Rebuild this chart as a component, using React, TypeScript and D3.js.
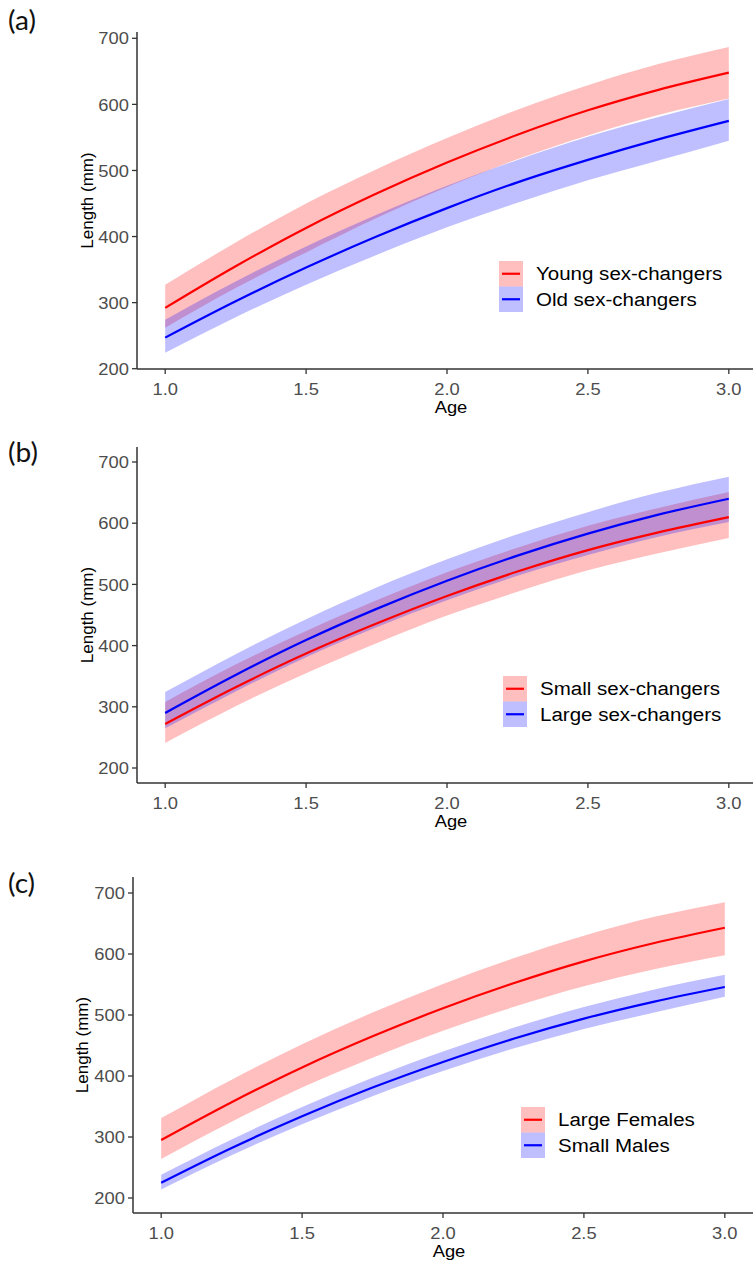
import React from 'react';
import * as d3 from 'd3';

// ---------- data ----------
const ages = [1.0, 1.25, 1.5, 1.75, 2.0, 2.25, 2.5, 2.75, 3.0];
const xTicks = [1.0, 1.5, 2.0, 2.5, 3.0];
const yTicks = [200, 300, 400, 500, 600, 700];

// (a)
const aYoungMean = [292, 355, 413, 465, 512, 554, 591, 622, 648];
const aYoungUpper = [327, 391, 450, 502, 549, 592, 629, 661, 687];
const aYoungLower = [262, 322, 376, 428, 475, 517, 553, 584, 609];
const aOldMean = [247, 302, 353, 400, 443, 482, 516, 547, 575];
const aOldUpper = [274, 332, 385, 433, 477, 516, 551, 581, 608];
const aOldLower = [224, 278, 327, 372, 414, 451, 485, 515, 545];

// (b)
const bSmallMean = [272, 332, 387, 436, 481, 521, 556, 585, 610];
const bSmallUpper = [308, 369, 424, 474, 520, 560, 596, 625, 651];
const bSmallLower = [241, 301, 355, 404, 449, 488, 523, 551, 576];
const bLargeMean = [290, 352, 409, 460, 506, 547, 583, 614, 640];
const bLargeUpper = [324, 386, 443, 495, 541, 582, 618, 650, 676];
const bLargeLower = [265, 325, 381, 430, 474, 514, 548, 578, 602];

// (c)
const cFemMean = [295, 357, 414, 465, 511, 552, 588, 618, 643];
const cFemUpper = [331, 394, 452, 504, 551, 593, 630, 661, 685];
const cFemLower = [264, 325, 381, 430, 474, 513, 547, 575, 598];
const cMaleMean = [225, 282, 334, 381, 423, 461, 494, 522, 546];
const cMaleUpper = [238, 296, 349, 397, 440, 479, 513, 542, 566];
const cMaleLower = [214, 270, 321, 367, 408, 445, 477, 504, 530];

const aLabels = ['Young sex-changers', 'Old sex-changers'];
const bLabels = ['Small sex-changers', 'Large sex-changers'];
const cLabels = ['Large Females', 'Small Males'];

const RED = '#FF0000';
const BLUE = '#0000FF';
const TICK_FONT = '"Liberation Sans", Arial, sans-serif';
const SX = 1.08; // horizontal stretch of the original figure text

type Series = { mean: number[]; upper: number[]; lower: number[]; color: string };

type PanelProps = {
  tag: string;
  tagY: number;
  axisX: number;
  xRight: number;
  y200: number;
  y700: number;
  axisTop: number;
  axisY: number;
  titleX: number;
  series: Series[];
  labels: string[];
  legendX: number;
  legendY: number;
};

function SText(props: { x: number; y: number; anchor?: string; size: number; fill: string; family: string; children: any; dy?: string }) {
  const { x, y, anchor, size, fill, family, children, dy } = props;
  return (
    <text
      transform={`translate(${x},${y}) scale(${SX},1)`}
      textAnchor={anchor || 'start'}
      fontSize={size}
      fill={fill}
      fontFamily={family}
      dy={dy}
    >
      {children}
    </text>
  );
}

function Panel(p: PanelProps) {
  const x = d3.scaleLinear().domain([0.9, 3.1]).range([p.axisX, p.xRight]);
  const y = d3.scaleLinear().domain([200, 700]).range([p.y200, p.y700]);
  const line = d3
    .line<number>()
    .x((_, i) => x(ages[i]))
    .y((d) => y(d))
    .curve(d3.curveMonotoneX);
  const band = (s: Series) =>
    d3
      .area<number>()
      .x((_, i) => x(ages[i]))
      .y0((_, i) => y(s.lower[i]))
      .y1((_, i) => y(s.upper[i]))
      .curve(d3.curveMonotoneX)(s.mean) as string;
  const axisColor = '#333333';
  const tickColor = '#4D4D4D';
  const plotMid = (p.axisTop + p.axisY) / 2;
  return (
    <g>
      <text
        transform={`translate(8,${p.tagY}) scale(1.08,1)`}
        fontFamily="Lato, 'Open Sans', sans-serif"
        fontSize={26}
        fill="#111"
      >
        {p.tag}
      </text>
      {p.series.map((s, i) => (
        <path key={'b' + i} d={band(s)} fill={s.color} fillOpacity={0.25} stroke="none" />
      ))}
      {p.series.map((s, i) => (
        <path key={'l' + i} d={line(s.mean) as string} fill="none" stroke={s.color} strokeWidth={2.2} />
      ))}
      {/* axes */}
      <line x1={p.axisX} x2={p.axisX} y1={p.axisTop} y2={p.axisY} stroke={axisColor} strokeWidth={1.5} />
      <line x1={p.axisX} x2={753} y1={p.axisY} y2={p.axisY} stroke={axisColor} strokeWidth={1.5} />
      {yTicks.map((t) => (
        <g key={'yt' + t}>
          <line x1={p.axisX - 5} x2={p.axisX} y1={y(t)} y2={y(t)} stroke={axisColor} strokeWidth={1.3} />
          <SText x={p.axisX - 8} y={y(t)} anchor="end" size={17} fill={tickColor} family={TICK_FONT} dy="0.36em">
            {t}
          </SText>
        </g>
      ))}
      {xTicks.map((t) => (
        <g key={'xt' + t}>
          <line x1={x(t)} x2={x(t)} y1={p.axisY} y2={p.axisY + 5} stroke={axisColor} strokeWidth={1.3} />
          <SText x={x(t)} y={p.axisY + 26} anchor="middle" size={17} fill={tickColor} family={TICK_FONT}>
            {t.toFixed(1)}
          </SText>
        </g>
      ))}
      <SText x={(p.axisX + 753) / 2 + 6} y={p.axisY + 44} anchor="middle" size={17} fill="#000" family={TICK_FONT}>
        Age
      </SText>
      <text
        transform={`translate(${p.titleX},${plotMid}) rotate(-90)`}
        textAnchor="middle"
        fontSize={17}
        fill="#000"
        fontFamily={TICK_FONT}
      >
        Length (mm)
      </text>
      {/* legend */}
      {p.series.map((s, i) => {
        const by = p.legendY + i * 25.5;
        return (
          <g key={'lg' + i}>
            <rect x={p.legendX} y={by} width={24} height={25.5} fill={s.color} fillOpacity={0.25} />
            <line x1={p.legendX + 3} x2={p.legendX + 21} y1={by + 12.75} y2={by + 12.75} stroke={s.color} strokeWidth={2.2} />
            <SText x={p.legendX + 37} y={by + 19} size={19} fill="#000" family={TICK_FONT}>
              {p.labels[i]}
            </SText>
          </g>
        );
      })}
    </g>
  );
}

export default function App() {
  const aSeries: Series[] = [
    { mean: aYoungMean, upper: aYoungUpper, lower: aYoungLower, color: RED },
    { mean: aOldMean, upper: aOldUpper, lower: aOldLower, color: BLUE },
  ];
  const bSeries: Series[] = [
    { mean: bSmallMean, upper: bSmallUpper, lower: bSmallLower, color: RED },
    { mean: bLargeMean, upper: bLargeUpper, lower: bLargeLower, color: BLUE },
  ];
  const cSeries: Series[] = [
    { mean: cFemMean, upper: cFemUpper, lower: cFemLower, color: RED },
    { mean: cMaleMean, upper: cMaleUpper, lower: cMaleLower, color: BLUE },
  ];
  return (
    <svg
      width={753}
      height={1262}
      style={{ position: 'absolute', left: 0, top: 0, background: '#fff' }}
    >
      <rect width={753} height={1262} fill="#fff" />
      <Panel
        tag="(a)"
        tagY={30}
        axisX={137}
        xRight={757}
        y200={368.7}
        y700={38.3}
        axisTop={32}
        axisY={369}
        titleX={93}
        series={aSeries}
        labels={aLabels}
        legendX={499}
        legendY={261}
      />
      <Panel
        tag="(b)"
        tagY={462}
        axisX={137}
        xRight={757}
        y200={768}
        y700={462}
        axisTop={447}
        axisY={783}
        titleX={93}
        series={bSeries}
        labels={bLabels}
        legendX={503}
        legendY={676}
      />
      <Panel
        tag="(c)"
        tagY={893}
        axisX={133}
        xRight={753}
        y200={1198}
        y700={893}
        axisTop={877}
        axisY={1213}
        titleX={88}
        series={cSeries}
        labels={cLabels}
        legendX={521}
        legendY={1107}
      />
    </svg>
  );
}
